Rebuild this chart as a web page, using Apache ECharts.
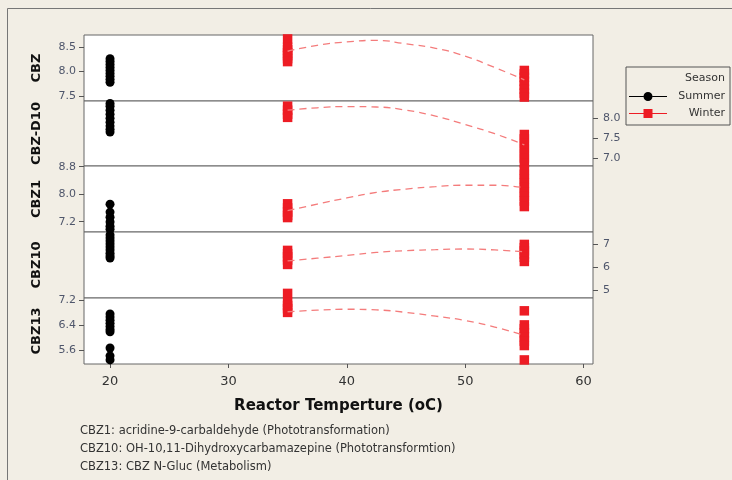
<!DOCTYPE html>
<html>
<head>
<meta charset="utf-8">
<script src="https://cdn.jsdelivr.net/npm/echarts@6/dist/echarts.min.js"></script>
<style>
  html, body { margin: 0; padding: 0; background: #f2eee5; }
  #main { width: 732px; height: 480px; }
</style>
</head>
<body>
<div id="main"></div>
<script>
var panelNames = ['CBZ', 'CBZ-D10', 'CBZ1', 'CBZ10', 'CBZ13'];
var summerTemp = 20;
var winterTemps = [35, 55];
var fitTemps = [35, 37.5, 40, 42.5, 45, 47.5, 50, 52.5, 55];
var xTicks = [20, 30, 40, 50, 60];

// values read per panel (summer at 20, winter at 35 and 55)
var cbzSummer = [8.26, 8.2, 8.14, 8.08, 8.02, 7.96, 7.9, 7.84, 7.78];
var cbzWinter35 = [8.66, 8.49, 8.44, 8.38, 8.32, 8.26, 8.2];
var cbzWinter55 = [8.02, 7.95, 7.88, 7.8, 7.72, 7.64, 7.56, 7.48];
var cbzFit = [8.41, 8.53, 8.6, 8.63, 8.56, 8.47, 8.31, 8.08, 7.83];

var d10Summer = [8.37, 8.3, 8.2, 8.1, 8.0, 7.9, 7.8, 7.72, 7.65];
var d10Winter35 = [8.3, 8.2, 8.1, 8.02];
var d10Winter55 = [7.59, 7.48, 7.36, 7.24, 7.12, 7.0, 6.88];
var d10Fit = [8.2, 8.26, 8.29, 8.28, 8.2, 8.05, 7.84, 7.61, 7.33];

var cbz1Summer = [7.71, 7.48, 7.33, 7.19, 7.07, 6.98];
var cbz1Winter35 = [7.72, 7.6, 7.48, 7.38, 7.32];
var cbz1Winter55 = [8.71, 8.58, 8.45, 8.32, 8.19, 8.06, 7.93, 7.8, 7.64];
var cbz1Fit = [7.52, 7.71, 7.89, 8.05, 8.15, 8.22, 8.26, 8.26, 8.19];

var cbz10Summer = [7.39, 7.26, 7.13, 7.0, 6.87, 6.74, 6.6, 6.48, 6.39];
var cbz10Winter35 = [6.72, 6.58, 6.44, 6.3, 6.11, 4.85];
var cbz10Winter55 = [6.98, 6.84, 6.7, 6.56, 6.42, 6.24];
var cbz10Fit = [6.26, 6.38, 6.5, 6.63, 6.71, 6.75, 6.78, 6.74, 6.66];

var cbz13Summer = [6.75, 6.65, 6.55, 6.45, 6.35, 6.25, 6.18, 5.66, 5.41, 5.28];
var cbz13Winter35 = [7.12, 7.02, 6.92, 6.8];
var cbz13Winter55 = [6.85, 6.4, 6.28, 6.15, 6.02, 5.88, 5.74, 5.28];
var cbz13Fit = [6.82, 6.87, 6.9, 6.88, 6.8, 6.68, 6.54, 6.33, 6.07];

var yMins = [7.40, 6.80, 6.90, 4.65, 5.15];
var yMaxs = [8.74, 8.43, 8.82, 7.52, 7.26];
var yTicks = [[7.5, 8.0, 8.5], [7.0, 7.5, 8.0], [7.2, 8.0, 8.8], [5, 6, 7], [5.6, 6.4, 7.2]];
var yDecimals = [1, 1, 1, 0, 1];

var footNotes = [
  'CBZ1: acridine-9-carbaldehyde (Phototransformation)',
  'CBZ10: OH-10,11-Dihydroxycarbamazepine (Phototransformtion)',
  'CBZ13: CBZ N-Gluc (Metabolism)'
];

var summerAll = [cbzSummer, d10Summer, cbz1Summer, cbz10Summer, cbz13Summer];
var winter35All = [cbzWinter35, d10Winter35, cbz1Winter35, cbz10Winter35, cbz13Winter35];
var winter55All = [cbzWinter55, d10Winter55, cbz1Winter55, cbz10Winter55, cbz13Winter55];
var fitAll = [cbzFit, d10Fit, cbz1Fit, cbz10Fit, cbz13Fit];

var gridLeft = 84;
var gridWidth = 509;
var gridTops = [35, 101, 166, 232, 298];
var gridHeights = [66, 65, 66, 66, 66];

var font = 'DejaVu Sans';
var chart = echarts.init(document.getElementById('main'));

function pairs(x, vals) {
  return vals.map(function (v) { return [x, v]; });
}

var grids = [], xAxes = [], yAxes = [], series = [], graphics = [];

for (var i = 0; i < panelNames.length; i++) {
  var last = i == panelNames.length - 1;
  var onRight = i % 2 == 1;

  grids.push({
    left: gridLeft, top: gridTops[i], width: gridWidth, height: gridHeights[i],
    show: true, backgroundColor: '#fff', borderColor: '#666', borderWidth: 1
  });

  xAxes.push({
    gridIndex: i, type: 'value', min: 17.8, max: 60.8,
    axisLine: { show: false },
    splitLine: { show: false },
    axisTick: { show: last, customValues: xTicks, length: 4, lineStyle: { color: '#555' } },
    axisLabel: { show: last, customValues: xTicks, color: '#333', fontSize: 13, fontFamily: font, margin: 11 },
    name: last ? 'Reactor Temperture (oC)' : '',
    nameLocation: 'middle', nameGap: 35,
    nameTextStyle: { fontWeight: 'bold', fontSize: 15, color: '#111', fontFamily: font }
  });

  (function (dec) {
    yAxes.push({
      gridIndex: i, type: 'value', min: yMins[i], max: yMaxs[i],
      position: onRight ? 'right' : 'left',
      axisLine: { show: false },
      splitLine: { show: false },
      axisTick: { show: true, customValues: yTicks[i], length: 5, lineStyle: { color: '#555' } },
      axisLabel: {
        customValues: yTicks[i], color: '#4f566b', fontSize: 11, fontFamily: font,
        margin: onRight ? 10 : 8,
        formatter: function (v) { return v.toFixed(dec); }
      }
    });
  })(yDecimals[i]);

  series.push({
    name: 'Summer', type: 'scatter', xAxisIndex: i, yAxisIndex: i,
    symbol: 'circle', symbolSize: 9, itemStyle: { color: '#000', opacity: 1 },
    data: pairs(summerTemp, summerAll[i])
  });
  series.push({
    name: 'Winter', type: 'scatter', xAxisIndex: i, yAxisIndex: i,
    symbol: 'rect', symbolSize: 9.5, itemStyle: { color: '#ed1c24', opacity: 1 },
    data: pairs(winterTemps[0], winter35All[i]).concat(pairs(winterTemps[1], winter55All[i]))
  });
  series.push({
    name: 'Winter fit', type: 'line', xAxisIndex: i, yAxisIndex: i,
    smooth: true, symbol: 'none', silent: true,
    lineStyle: { color: '#f47c7c', width: 1.3, type: [7, 5] },
    data: fitTemps.map(function (t, k) { return [t, fitAll[i][k]]; })
  });

  graphics.push({
    type: 'text', x: 37, y: gridTops[i] + gridHeights[i] / 2, rotation: Math.PI / 2,
    style: { text: panelNames[i], fill: '#111', font: 'bold 13px ' + font, textAlign: 'center', textVerticalAlign: 'middle' }
  });
}

for (var j = 0; j < footNotes.length; j++) {
  graphics.push({
    type: 'text', x: 80, y: 431 + j * 18,
    style: { text: footNotes[j], fill: '#333', font: '11.5px ' + font, textVerticalAlign: 'middle' }
  });
}

graphics.push({
  type: 'text', x: 725, y: 78,
  style: { text: 'Season', fill: '#333', font: '11px ' + font, textAlign: 'right', textVerticalAlign: 'middle' }
});
graphics.push({
  type: 'rect', shape: { x: 7.5, y: 8.5, width: 760, height: 500 }, silent: true,
  style: { fill: 'none', stroke: '#777', lineWidth: 1 }
});

var option = {
  backgroundColor: '#f2eee5',
  animation: false,
  grid: grids,
  xAxis: xAxes,
  yAxis: yAxes,
  series: series,
  legend: {
    orient: 'vertical', left: 626, top: 67,
    padding: [24, 5, 6, 3], itemGap: 6, itemWidth: 38, itemHeight: 9,
    borderColor: '#555', borderWidth: 1,
    formatter: function (name) { return '{t|' + name + '}'; },
    textStyle: {
      color: '#333', fontSize: 11, fontFamily: font,
      rich: { t: { width: 53, align: 'right', fontSize: 11, fontFamily: font, color: '#333', lineHeight: 13 } }
    },
    data: [
      { name: 'Summer', icon: 'path://M0,4H14.5V5H0Z M23.5,4H38V5H23.5Z M14.5,4.5A4.5,4.5 0 1 0 23.5,4.5A4.5,4.5 0 1 0 14.5,4.5Z', itemStyle: { color: '#000' } },
      { name: 'Winter', icon: 'path://M0,4H14.5V5H0Z M23.5,4H38V5H23.5Z M14.5,0H23.5V9H14.5Z', itemStyle: { color: '#ed1c24' } }
    ]
  },
  graphic: graphics
};

chart.setOption(option);
</script>
</body>
</html>
